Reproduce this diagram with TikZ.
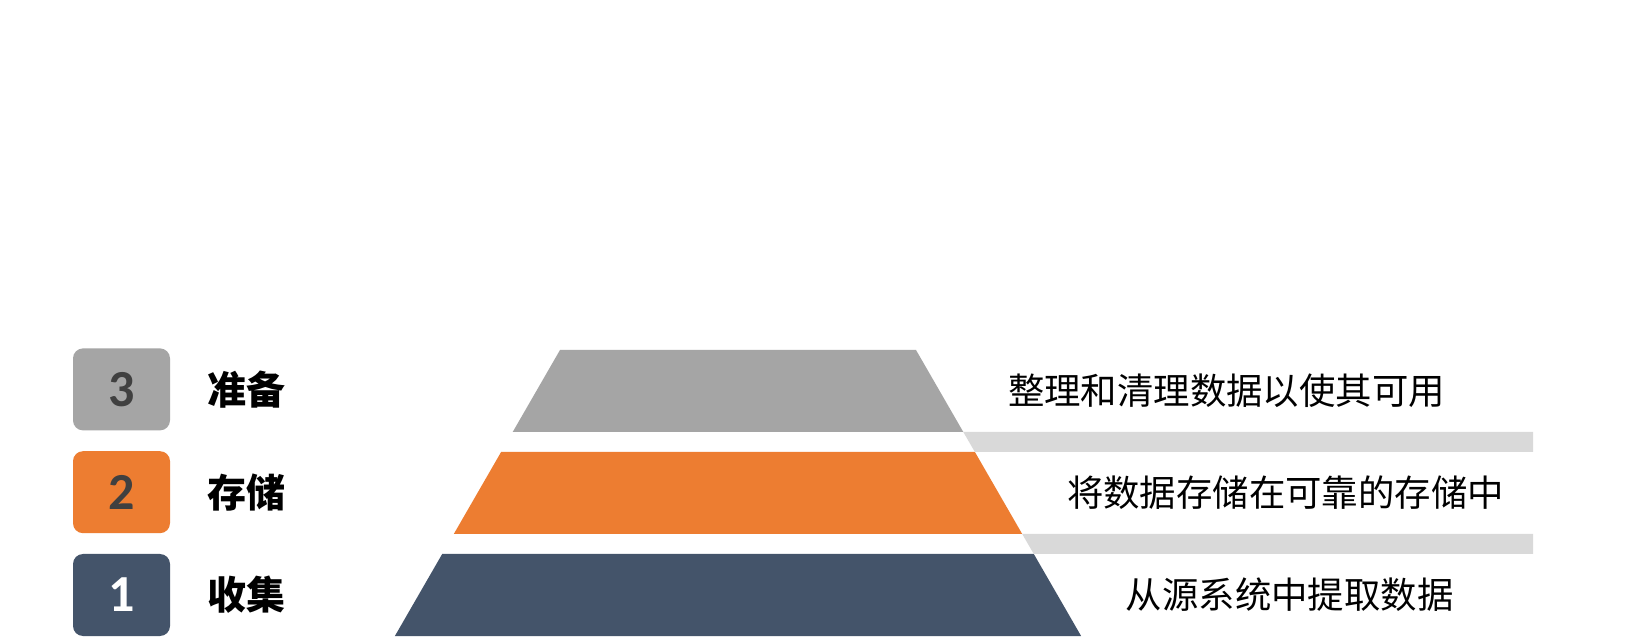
\documentclass[tikz,border=0pt]{standalone}
\usepackage{fontspec}
\usepackage{tikz}
\usetikzlibrary{
  positioning
}
\newfontfamily\cjk{Noto Sans CJK SC}
\newfontfamily\digits{Carlito}
\definecolor{prepgray}{HTML}{A5A5A5}
\definecolor{storeorange}{HTML}{ED7D31}
\definecolor{collectnavy}{HTML}{44546A}
\definecolor{bargray}{HTML}{D9D9D9}
\definecolor{digitdark}{HTML}{404040}
\tikzset{
  numbox/.style={rectangle,rounded corners=5pt,minimum width=48.5pt,
    minimum height=41pt,inner sep=0pt,
    font=\digits\bfseries\fontsize{26}{26}\selectfont},
  stage/.style={inner sep=0pt,font=\cjk\bfseries\fontsize{19.5}{19.5}\selectfont},
  task/.style={inner sep=0pt,font=\cjk\fontsize{18.2}{18.2}\selectfont}
}

\begin{document}
\begin{tikzpicture}[x=0.5pt,y=-0.5pt]
  \useasboundingbox[fill=white] (0,0) rectangle (1627,640);
  \fill[prepgray] (560,350) -- (916,350) -- (963.3,432) -- (512.7,432) -- cycle;
  \fill[storeorange] (501.1,452) -- (974.9,452) -- (1022.2,534) -- (453.8,534) -- cycle;
  \fill[collectnavy] (442.2,554) -- (1033.8,554) -- (1081.1,636) -- (394.9,636) -- cycle;
  \coordinate (e3) at (939.7,391);
  \coordinate (e2) at (998.6,493);
  \coordinate (e1) at (1057.5,595);
  \coordinate (barend) at (1533,0);
  \fill[bargray] (963.3,432) -- (barend |- 0,432) -- (barend |- 0,452) -- (974.9,452) -- cycle;
  \fill[bargray] (1022.2,534) -- (barend |- 0,534) -- (barend |- 0,554) -- (1033.8,554) -- cycle;
  \node[task,right=34pt of e3,anchor=west] (t3) {整理和清理数据以使其可用};
  \node[task,right=34pt of e2,anchor=west] (t2) {将数据存储在可靠的存储中};
  \node[task,right=34pt of e1,anchor=west] (t1) {从源系统中提取数据};
  \node[numbox,fill=collectnavy,text=white] (n1) at (121.5,595) {1};
  \node[numbox,fill=storeorange,text=digitdark,above=10pt of n1] (n2) {2};
  \node[numbox,fill=prepgray,text=digitdark,above=10pt of n2] (n3) {3};
  \node[stage,right=18.5pt of n1] (s1) {收集};
  \node[stage,right=18.5pt of n2] (s2) {存储};
  \node[stage,right=18.5pt of n3] (s3) {准备};
\end{tikzpicture}
\end{document}
